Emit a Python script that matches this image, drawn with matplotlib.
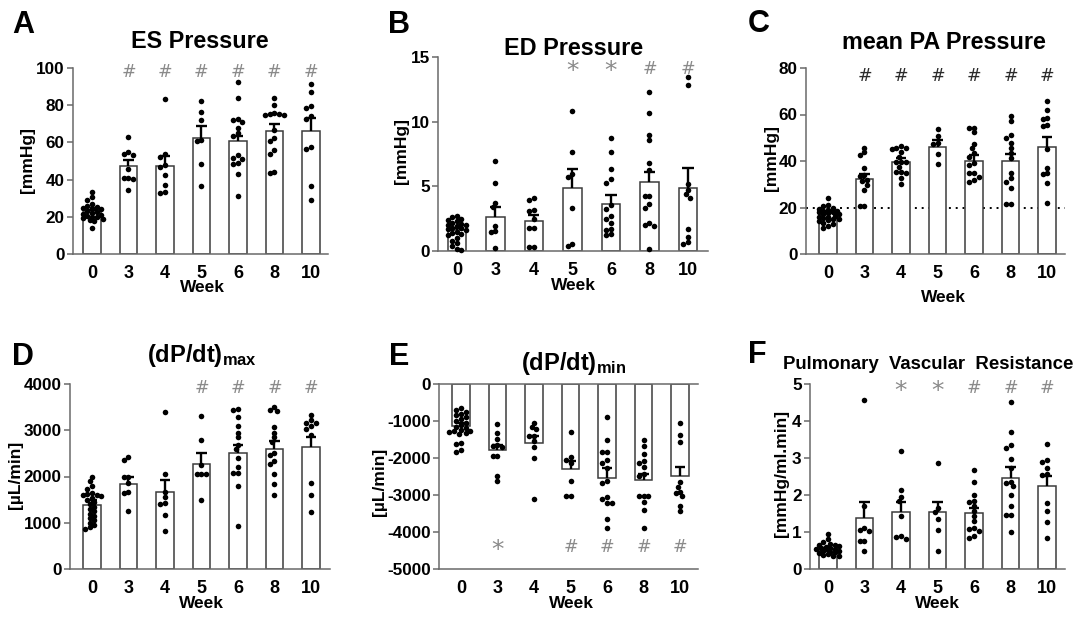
import numpy as np
import matplotlib
matplotlib.use("Agg")
import matplotlib.pyplot as plt

W, H = 1083, 618

plt.rcParams['font.family'] = ['Liberation Sans', 'DejaVu Sans']
plt.rcParams['font.weight'] = 'bold'
plt.rcParams['axes.unicode_minus'] = False
plt.rcParams['mathtext.fontset'] = 'custom'
plt.rcParams['mathtext.rm'] = 'Liberation Sans:bold'
plt.rcParams['mathtext.it'] = 'Liberation Sans:bold'
plt.rcParams['mathtext.bf'] = 'Liberation Sans:bold'

weeks = ['0', '3', '4', '5', '6', '8', '10']

# ---- A: ES pressure [mmHg] ----
es_mean = [22.4, 47.4, 47.4, 62.3, 60.5, 65.9, 65.9]
es_sem = [1.2, 3.0, 5.4, 6.3, 2.7, 4.1, 7.1]
es_dots = [
    [33.5, 30.5, 29, 27, 26, 25.5, 25, 24.5, 24, 23, 22.5, 22, 21.5, 21, 20.5, 20, 20, 19.5, 19, 18.5, 18, 13.8],
    [62.7, 54.8, 53.7, 53.3, 45.6, 40.8, 40.8, 40.4, 34.5],
    [83.3, 53.9, 52, 47.9, 47, 42.5, 37.2, 33.2, 32.7],
    [82.4, 76.1, 71.8, 61.4, 61, 48.3, 36.3],
    [92.3, 83.7, 72.5, 71.8, 70.7, 67.9, 65.2, 63.2, 53.1, 51.5, 51, 48.7, 48.3, 43.1, 31.1],
    [83.7, 80.3, 75.6, 75.4, 75.2, 75.0, 74.8, 66.8, 62.3, 61, 56, 53.9, 44.3, 43.6],
    [91.6, 87.1, 79.7, 78.5, 74.3, 72.7, 57.3, 56.6, 36.8, 29.1],
]
es_marks = ['', '#', '#', '#', '#', '#', '#']

# ---- B: ED pressure [mmHg] ----
ed_mean = [1.6, 2.64, 2.3, 4.89, 3.67, 5.35, 4.84]
ed_sem = [0.2, 0.76, 0.47, 1.47, 0.65, 0.78, 1.55]
ed_dots = [
    [2.7, 2.6, 2.5, 2.4, 2.3, 2.2, 2.1, 2.0, 2.0, 1.9, 1.8, 1.8, 1.7, 1.6, 1.5, 1.4, 1.3, 1.2, 1.0, 0.8, 0.6, 0.4, 0.15, 0.1],
    [6.96, 5.28, 3.72, 3.41, 1.94, 1.55, 1.47, 0.2],
    [4.11, 3.98, 3.2, 3.1, 2.5, 1.81, 1.78, 0.31, 0.31],
    [10.8, 7.63, 5.95, 5.74, 3.36, 0.57, 0.39],
    [8.71, 7.68, 6.34, 5.53, 5.28, 3.54, 3.28, 2.69, 2.5, 2.17, 1.73, 1.6, 1.34, 1.22],
    [12.3, 10.65, 8.97, 8.59, 6.78, 6.26, 4.27, 4.24, 3.62, 3.36, 2.17, 2.04, 1.91, 0.18],
    [13.45, 12.8, 5.17, 4.71, 4.37, 4.11, 1.73, 1.09, 0.7, 0.57],
]
ed_marks = ['', '', '', '*', '*', '#', '#']

# ---- C: mean PA pressure [mmHg] ----
pa_mean = [17.5, 32.2, 39.4, 46.2, 40.2, 39.8, 46.2]
pa_sem = [0.8, 2.3, 2.0, 2.9, 2.5, 3.3, 4.1]
pa_dots = [
    [24, 21, 20.5, 20, 19.5, 19, 18.5, 18.5, 18, 18, 17.5, 17, 17, 16.5, 16, 16, 15.5, 15, 15, 14.5, 14, 13.5, 13, 12, 11],
    [45.8, 43.7, 42.7, 36.9, 33.8, 33.6, 31.9, 31.2, 29.7, 27.6, 20.8, 20.8],
    [46.5, 45.8, 45.5, 45.2, 43.8, 41.9, 39.4, 39.4, 39.4, 37.6, 35.2, 35.2, 34.8, 32.5, 30],
    [53.9, 50.8, 47.7, 47.4, 42.9, 38.6],
    [54.4, 54.1, 52.4, 47.3, 45.5, 43.4, 41.9, 39.1, 38.1, 35, 34.8, 33.3, 31.9, 30.9],
    [59.5, 57, 51.3, 50.1, 47.7, 45.5, 43.4, 41.2, 34.8, 32.6, 30.9, 28.6, 21.5, 21.5],
    [65.9, 62, 58.5, 58, 55.6, 54.9, 45.2, 36.9, 34.8, 34.3, 30.4, 21.8],
]
pa_marks = ['', '#', '#', '#', '#', '#', '#']
pa_threshold = 20

# ---- D: (dP/dt)max [uL/min] ----
dpmax_mean = [1388, 1842, 1662, 2273, 2504, 2590, 2633]
dpmax_sem = [108, 158, 252, 245, 179, 187, 230]
dpmax_dots = [
    [1990, 1900, 1800, 1730, 1650, 1630, 1610, 1600, 1580, 1540, 1500, 1450, 1400, 1350, 1300, 1250, 1200, 1150, 1100, 1050, 1000, 950, 900, 870],
    [2432, 2360, 2000, 1990, 1856, 1655, 1640, 1245],
    [3388, 2058, 1655, 1547, 1424, 1410, 1173, 813],
    [3309, 2791, 2252, 2050, 2050, 2050, 1482],
    [3453, 3439, 3281, 3094, 2950, 2849, 2683, 2590, 2396, 2216, 2086, 2072, 1784, 921],
    [3511, 3439, 3424, 3065, 2950, 2849, 2755, 2504, 2468, 2338, 2273, 2058, 1835, 1590],
    [3331, 3223, 3165, 3165, 3094, 3029, 2899, 1856, 1604, 1223],
]
dpmax_marks = ['', '', '', '#', '#', '#', '#']

# ---- E: (dP/dt)min [uL/min] ----
dpmin_mean = [-1135, -1784, -1604, -2297, -2532, -2595, -2486]
dpmin_sem = [85, 134, 199, 225, 253, 163, 252]
dpmin_dots = [
    [-650, -700, -750, -800, -850, -900, -950, -1000, -1050, -1100, -1150, -1200, -1230, -1260, -1280, -1300, -1320, -1350, -1600, -1620, -1780, -1850],
    [-1081, -1315, -1486, -1650, -1676, -1694, -1937, -1950, -2477, -2613],
    [-1063, -1171, -1225, -1405, -1405, -1532, -1694, -2009, -3117],
    [-1288, -1964, -2054, -2144, -2613, -3018, -3018],
    [-883, -1514, -1847, -1850, -2054, -2126, -2279, -2613, -2667, -3045, -3117, -3207, -3210, -3658, -3901],
    [-1514, -1676, -1892, -2081, -2126, -2234, -2432, -2477, -3018, -3018, -3020, -3198, -3405, -3901],
    [-1063, -1378, -1577, -2658, -2775, -2910, -2937, -3018, -3297, -3423],
]
dpmin_marks = ['', '*', '', '#', '#', '#', '#']

# ---- F: pulmonary vascular resistance [mmHg/ml.min] ----
pvr_mean = [0.52, 1.38, 1.54, 1.54, 1.51, 2.46, 2.23]
pvr_sem = [0.04, 0.42, 0.26, 0.26, 0.15, 0.29, 0.29]
pvr_dots = [
    [0.95, 0.8, 0.72, 0.68, 0.66, 0.64, 0.62, 0.6, 0.58, 0.57, 0.55, 0.54, 0.52, 0.5, 0.49, 0.47, 0.45, 0.43, 0.41, 0.38, 0.36, 0.35],
    [4.57, 1.71, 1.11, 1.06, 1.04, 0.76, 0.75, 0.49],
    [3.19, 2.14, 1.94, 1.83, 1.42, 0.88, 0.86, 0.81],
    [2.86, 1.65, 1.53, 1.35, 1.06, 0.5],
    [2.68, 2.35, 1.99, 1.84, 1.8, 1.69, 1.56, 1.42, 1.29, 1.11, 1.09, 1.02, 0.88, 0.85],
    [4.52, 3.71, 3.34, 3.28, 2.98, 2.72, 2.35, 2.32, 2.23, 2.0, 1.69, 1.47, 1.47, 0.99],
    [3.38, 2.95, 2.88, 2.72, 2.57, 2.54, 1.78, 1.57, 1.27, 0.84],
]
pvr_marks = ['', '', '*', '*', '#', '#', '#']

fig = plt.figure(figsize=(W / 100, H / 100), dpi=100)


def swarm_offsets(vals, unit_per_px, cat_px, gap_px=4.6, max_off=0.33):
    # packed scatter: each dot as near the centre as it fits, overlap allowed
    vals = np.asarray(vals, float)
    ypx = vals / unit_per_px
    half = 0.5 * gap_px / cat_px
    cands = [0.0]
    j = 1
    while j * half <= max_off:
        cands += [-j * half, j * half]
        j += 1
    placed = []
    offs = np.zeros(len(vals))
    for i in np.argsort(-vals):
        best, best_d = 0.0, -1
        for c in cands:
            dmin = min([np.hypot(ypx[i] - py, (c - pc) * cat_px) for py, pc in placed] or [99])
            if dmin >= gap_px:
                best = c
                break
            if dmin > best_d + 0.8:
                best, best_d = c, dmin
        offs[i] = best
        placed.append((ypx[i], best))
    return offs


def draw_panel(box, xlim, ylim, yticks, means, sems, dots, marks, mark_y,
               mark_color='#8a8a8a', top_spine=False):
    l, t, r, b = box
    ax = fig.add_axes([l / W, 1 - b / H, (r - l) / W, (b - t) / H])
    x = np.arange(len(weeks))
    means = np.array(means, float)
    tops = means + np.array(sems, float)
    ax.bar(x, means, width=0.48, color='white', edgecolor='#3c3c3c',
           linewidth=1.1, zorder=2)
    ax.vlines(x, means, tops, color='black', lw=1.7, zorder=3)
    ax.hlines(tops, x - 0.145, x + 0.145, color='black', lw=1.7, zorder=3)

    unit_per_px = (ylim[1] - ylim[0]) / (b - t)
    cat_px = (r - l) / (xlim[1] - xlim[0])
    for i, d in enumerate(dots):
        off = swarm_offsets(d, unit_per_px, cat_px)
        ax.plot(i + off, d, 'o', color='black', ms=4.0, mew=0, zorder=4,
                clip_on=False)

    for i, m in enumerate(marks):
        if m == '#':
            ax.text(i, mark_y, m, ha='center', va='center', color=mark_color,
                    fontsize=12.5, fontweight='normal', family='DejaVu Sans')
        elif m == '*':
            ax.text(i, mark_y - 0.012 * (ylim[1] - ylim[0]), m, ha='center',
                    va='center', color=mark_color, fontsize=18,
                    fontweight='normal', family='DejaVu Sans')

    ax.set_xlim(xlim)
    ax.set_ylim(ylim)
    ax.set_xticks(x)
    ax.set_xticklabels(weeks)
    ax.set_yticks(yticks)
    for s in ['right', 'top']:
        ax.spines[s].set_visible(False)
    if top_spine:
        ax.spines['top'].set_visible(True)
    for s in ax.spines.values():
        s.set_color('#6a6a6a')
        s.set_linewidth(1.1)
    ax.tick_params(axis='y', length=4, width=1.1, color='#6a6a6a', pad=2,
                   labelsize=12.3)
    ax.tick_params(axis='x', length=0, pad=8, labelsize=13)
    ax.patch.set_alpha(0)
    return ax


draw_panel((73, 68, 328, 254), (-0.52, 6.47), (0, 100), range(0, 101, 20),
           es_mean, es_sem, es_dots, es_marks, 98)
draw_panel((438, 57, 708, 251), (-0.49, 6.52), (0, 15), [0, 5, 10, 15],
           ed_mean, ed_sem, ed_dots, ed_marks, 14.1)
axc = draw_panel((806, 68, 1065, 254), (-0.6, 6.49), (0, 80), range(0, 81, 20),
                 pa_mean, pa_sem, pa_dots, pa_marks, 76.4, mark_color='#2a2a2a')
axc.axhline(pa_threshold, color='black', lw=1.4, ls=(0, (1, 2.5)), zorder=1)
draw_panel((70, 384, 330, 569), (-0.6, 6.52), (0, 4000), range(0, 4001, 1000),
           dpmax_mean, dpmax_sem, dpmax_dots, dpmax_marks, 3906)
draw_panel((439, 384, 698, 569), (-0.6, 6.49), (-5000, 0), range(-5000, 1, 1000),
           dpmin_mean, dpmin_sem, dpmin_dots, dpmin_marks, -4414, top_spine=True)
draw_panel((810, 384, 1065, 569), (-0.49, 6.49), (0, 5), range(0, 6),
           pvr_mean, pvr_sem, pvr_dots, pvr_marks, 4.88)


def ftext(x, y, s, **kw):
    fig.text(x / W, 1 - y / H, s, **kw)


# panel letters
for lx, ly, s in [(23, 33, 'A'), (399, 33, 'B'), (759, 32, 'C'),
                  (23, 365, 'D'), (399, 365, 'E'), (757, 363, 'F')]:
    ftext(lx, ly, s, fontsize=22, ha='center', va='baseline')

# titles
ftext(200, 48, 'ES Pressure', fontsize=16.8, ha='center', va='baseline')
ftext(574, 55, 'ED Pressure', fontsize=16.8, ha='center', va='baseline')
ftext(944, 49, 'mean PA Pressure', fontsize=16.8, ha='center', va='baseline')
ftext(202, 362, r'(dP/dt)$_{\mathrm{max}}$', fontsize=17, ha='center', va='baseline')
ftext(574, 370, r'(dP/dt)$_{\mathrm{min}}$', fontsize=17, ha='center', va='baseline')
ftext(928, 369, 'Pulmonary  Vascular  Resistance', fontsize=13.4, ha='center', va='baseline')

# y labels
for lx, ly, s in [(28, 160, '[mmHg]'), (401, 151, '[mmHg]'), (772, 158, '[mmHg]'),
                  (15, 475, '[µL/min]'), (379, 482, '[µL/min]'), (781, 473, '[mmHg/ml.min]')]:
    ftext(lx, ly, s, fontsize=12.5, rotation=90, ha='center', va='center')

# x labels
for lx, ly in [(202, 288), (573, 286), (943, 297), (201, 604), (571, 603), (937, 604)]:
    ftext(lx, ly, 'Week', fontsize=12.5, ha='center', va='center')

fig.savefig('out.png', dpi=100)
